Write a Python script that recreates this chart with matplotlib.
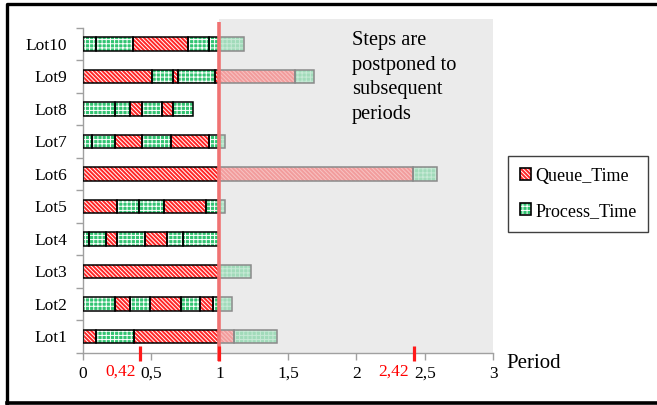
import matplotlib
matplotlib.use('Agg')
import matplotlib.pyplot as plt
from matplotlib.patches import Patch, Rectangle
from matplotlib.lines import Line2D

plt.rcParams['font.family'] = ['Liberation Serif', 'DejaVu Serif']
plt.rcParams['hatch.linewidth'] = 0.7

lots = ['Lot1', 'Lot2', 'Lot3', 'Lot4', 'Lot5',
        'Lot6', 'Lot7', 'Lot8', 'Lot9', 'Lot10']
# Q = Queue_Time, P = Process_Time, in order along each bar (Lot1 first)
seg_kinds = [
    ['Q', 'P', 'Q', 'P'],
    ['P', 'Q', 'P', 'Q', 'P', 'Q', 'P'],
    ['Q', 'P'],
    ['P', 'P', 'Q', 'P', 'Q', 'P', 'P'],
    ['Q', 'P', 'P', 'Q', 'P'],
    ['Q', 'P'],
    ['P', 'P', 'Q', 'P', 'Q', 'P'],
    ['P', 'P', 'Q', 'P', 'Q', 'P'],
    ['Q', 'P', 'Q', 'P', 'Q', 'P'],
    ['P', 'P', 'Q', 'P', 'P'],
]
seg_lengths = [
    [0.10, 0.275, 0.73, 0.315],
    [0.236, 0.107, 0.146, 0.226, 0.141, 0.097, 0.142],
    [1.0, 0.234],
    [0.046, 0.122, 0.08, 0.205, 0.165, 0.114, 0.268],
    [0.248, 0.163, 0.183, 0.311, 0.139],
    [2.418, 0.171],
    [0.066, 0.17, 0.2, 0.206, 0.285, 0.117],
    [0.236, 0.11, 0.09, 0.141, 0.085, 0.141],
    [0.504, 0.158, 0.034, 0.268, 0.591, 0.134],
    [0.095, 0.272, 0.402, 0.153, 0.256],
]
period_end = 1.0
marks = [0.42, 1.0, 2.42]
mark_labels = ['0,42', '', '2,42']
xticks = [0, 0.5, 1, 1.5, 2, 2.5, 3]
xtick_labels = ['0', '0,5', '1', '1,5', '2', '2,5', '3']

colors = {'Q': '#ff2626', 'P': '#33c472'}
hatches = {'Q': '\\' * 8, 'P': '+' * 4}
names = {'Q': 'Queue_Time', 'P': 'Process_Time'}
bar_h = 0.41

fig = plt.figure(figsize=(6.57, 4.05), dpi=100)
ax = fig.add_axes([0.1259, 0.1291, 0.6245, 0.8025])


def draw_piece(y, left, width, kind, faded):
    a = 0.4 if faded else 1.0
    ax.barh(y, width, left=left, height=bar_h, color=colors[kind],
            hatch=hatches[kind], edgecolor='white', linewidth=0,
            alpha=a, zorder=2)
    ax.barh(y, width, left=left, height=bar_h, fill=False,
            edgecolor='#8a8a8a' if faded else 'black',
            linewidth=1.1, zorder=3)


for i, (kinds, lengths) in enumerate(zip(seg_kinds, seg_lengths)):
    y = i + 1
    start = 0.0
    for kind, w in zip(kinds, lengths):
        end = start + w
        if end <= period_end + 1e-9:
            draw_piece(y, start, w, kind, False)
        elif start >= period_end:
            draw_piece(y, start, w, kind, True)
        else:
            draw_piece(y, start, period_end - start, kind, False)
            draw_piece(y, period_end, end - period_end, kind, True)
        start = end

# postponed region
ax.add_patch(Rectangle((1, 0.5), 2, 10.27, facecolor='#ebebeb',
                       edgecolor='none', zorder=0.5, clip_on=False))
ax.plot([1, 1], [0.25, 10.67], color='#f07272', lw=2.6, zorder=5,
        clip_on=False, solid_capstyle='butt')
for m in marks:
    ax.plot([m, m], [0.245, 0.71], color='#ff1a1a', lw=2.3, zorder=6,
            clip_on=False, solid_capstyle='butt')
xform = ax.get_xaxis_transform()
for xpos, lab in [(0.275, mark_labels[0]), (2.27, mark_labels[2])]:
    ax.annotate(lab, xy=(xpos, 0), xycoords=xform, xytext=(0, -8.1),
                textcoords='offset points', color='red', fontsize=12.5,
                ha='center', va='top', zorder=7, annotation_clip=False)

ax.set_xlim(0, 3)
ax.set_ylim(0.5, 10.5)
ax.set_xticks(xticks)
ax.set_xticklabels(xtick_labels, fontsize=12.5)
ax.set_yticks(range(1, 11))
ax.set_yticklabels(lots, fontsize=12.5)
ax.set_yticks([k + 0.5 for k in range(0, 11)], minor=True)
ax.tick_params(axis='y', which='major', length=0, pad=11)
ax.tick_params(axis='y', which='minor', length=5, color='#a0a0a0',
               width=1)
ax.tick_params(axis='x', length=5, color='#a0a0a0', width=1, pad=4.5)
for s in ['top', 'right']:
    ax.spines[s].set_visible(False)
for s in ['left', 'bottom']:
    ax.spines[s].set_color('#a0a0a0')
    ax.spines[s].set_linewidth(1)
ax.set_facecolor('white')

ax.text(1.97, 10.39, 'Steps are\npostponed to\nsubsequent\nperiods',
        fontsize=14.7, va='top', ha='left', linespacing=1.39, zorder=7)

fig.text(506.7 / 657, 1 - 368 / 405, 'Period', fontsize=15,
         va='baseline', ha='left')

handles = []
for k in ['Q', 'P']:
    h1 = Patch(facecolor=colors[k], hatch=hatches[k], edgecolor='white',
               linewidth=0)
    h2 = Patch(fill=False, edgecolor='black', linewidth=1.2)
    handles.append((h1, h2))
leg = fig.legend(handles, [names['Q'], names['P']],
                 loc='upper left', bbox_to_anchor=(508 / 657, 1 - 156 / 405),
                 fontsize=13, frameon=True, fancybox=False,
                 edgecolor='#404040', framealpha=1, borderaxespad=0,
                 borderpad=0.65, handlelength=0.65, handleheight=0.65,
                 handletextpad=0.2, labelspacing=1.0)
leg.get_frame().set_linewidth(1.0)

# outer frame
fig.add_artist(Line2D([7 / 657, 7 / 657, 1.0], [1 - 403 / 405, 1 - 3.5 / 405, 1 - 3.5 / 405],
                      color='black', lw=2.4, transform=fig.transFigure))
fig.add_artist(Line2D([7 / 657, 1.0], [1 - 403 / 405, 1 - 403 / 405],
                      color='black', lw=2.6, transform=fig.transFigure))

fig.savefig('out.png', dpi=100)
